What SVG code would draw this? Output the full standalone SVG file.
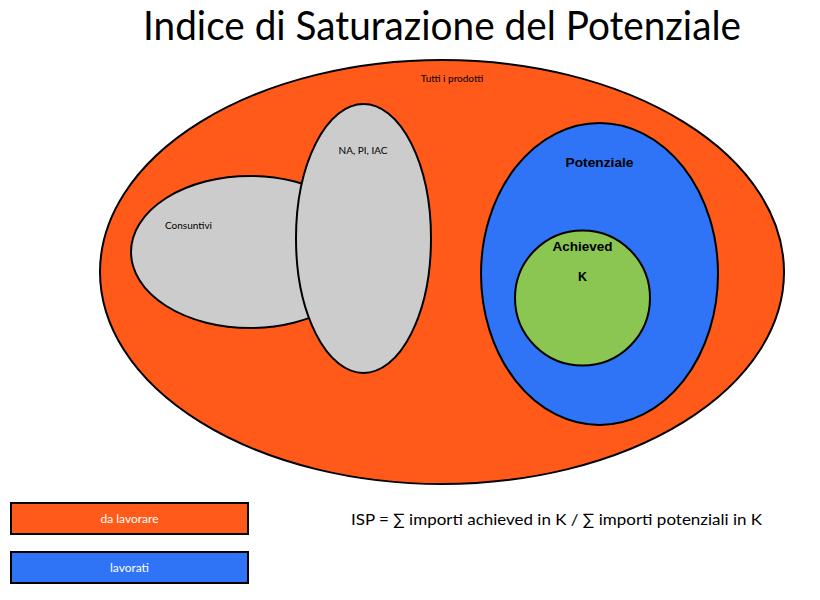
<svg xmlns="http://www.w3.org/2000/svg" width="820" height="600" viewBox="0 0 820 600">
<style>
.t{font-family:"Lato","Liberation Sans",sans-serif;fill:#000}
.b{font-family:"Liberation Sans",sans-serif;font-weight:bold;fill:#000;font-size:12.5px}
.s{stroke:#000;stroke-width:2}
.w{font-family:"Lato","Liberation Sans",sans-serif;fill:#fff;font-size:12px}
</style>
<rect width="820" height="600" fill="#fff"/>
<text class="t" x="442" y="40" font-size="41" text-anchor="middle" textLength="598" lengthAdjust="spacingAndGlyphs">Indice di Saturazione del Potenziale</text>
<g id="tutti">
<ellipse class="s" cx="442" cy="272" rx="342" ry="212" fill="#FF5A1A"/>
<text class="t" x="452" y="82" font-size="10" text-anchor="middle">Tutti i prodotti</text>
</g>
<g id="consuntivi">
<ellipse class="s" cx="250" cy="252" rx="119" ry="76" fill="#CCCCCC"/>
<text class="t" x="165" y="229" font-size="10">Consuntivi</text>
</g>
<g id="na">
<ellipse class="s" cx="363.5" cy="238.5" rx="67.5" ry="134.5" fill="#CCCCCC"/>
<text class="t" x="363" y="154" font-size="10" text-anchor="middle">NA, PI, IAC</text>
</g>
<g id="potenziale">
<ellipse class="s" cx="599.5" cy="274" rx="118.5" ry="151" fill="#2F73F7"/>
<text class="b" x="599.5" y="167" text-anchor="middle" textLength="68" lengthAdjust="spacingAndGlyphs">Potenziale</text>
</g>
<g id="achieved">
<circle class="s" cx="582.5" cy="298" r="67.5" fill="#8BC653"/>
<text class="b" x="582.5" y="251" text-anchor="middle" textLength="60" lengthAdjust="spacingAndGlyphs">Achieved</text>
<text class="b" x="582.5" y="281" text-anchor="middle">K</text>
</g>
<g id="legend-da-lavorare">
<rect x="11" y="503" width="237" height="31" fill="#FF5A1A" stroke="#000" stroke-width="2"/>
<text class="w" x="129.5" y="523" text-anchor="middle">da lavorare</text>
</g>
<g id="legend-lavorati">
<rect x="11" y="552" width="237" height="31" fill="#2F73F7" stroke="#000" stroke-width="2"/>
<text class="w" x="129.5" y="572" text-anchor="middle">lavorati</text>
</g>
<text class="t" x="351" y="525" font-size="16" textLength="411" lengthAdjust="spacingAndGlyphs">ISP = ∑ importi achieved in K / ∑ importi potenziali in K</text>
<g id="connectors"/>
</svg>
